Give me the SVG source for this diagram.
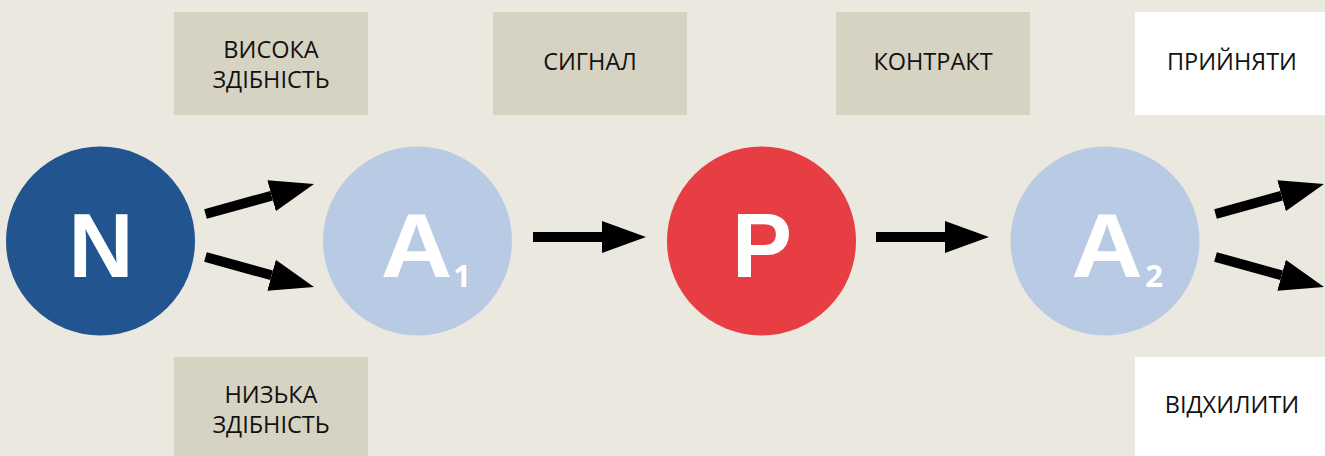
<svg xmlns="http://www.w3.org/2000/svg" width="1325" height="456" viewBox="0 0 1325 456">
  <style>
    .box { fill: #D6D3C2; }
    .wbox { fill: #FFFFFF; }
    .lbl { font-family: "Open Sans", "Liberation Sans", sans-serif; font-size: 23.5px; fill: #111111; text-anchor: middle; }
    .big { font-family: "Liberation Sans", Arial, sans-serif; font-weight: bold; font-size: 90px; fill: #FFFFFF; text-anchor: middle; }
    .sub { font-family: "Open Sans", "Liberation Sans", sans-serif; font-weight: bold; font-size: 31px; fill: #FFFFFF; text-anchor: middle; }
    .conn { stroke: #000000; stroke-width: 10; fill: none; }
  </style>
  <defs>
    <marker id="ah" markerUnits="userSpaceOnUse" markerWidth="44" markerHeight="32" refX="0" refY="16" orient="auto" viewBox="0 0 44 32">
      <path d="M0,0 L44,16 L0,32 z" fill="#000000"/>
    </marker>
  </defs>
  <rect x="0" y="0" width="1325" height="456" fill="#EBE8E0"/>

  <g id="label-high">
    <rect class="box" x="174" y="12" width="194" height="103"/>
    <text class="lbl" x="271" y="58">ВИСОКА</text>
    <text class="lbl" x="271" y="88">ЗДІБНІСТЬ</text>
  </g>
  <g id="label-low">
    <rect class="box" x="174" y="357" width="194" height="99"/>
    <text class="lbl" x="271" y="403">НИЗЬКА</text>
    <text class="lbl" x="271" y="433">ЗДІБНІСТЬ</text>
  </g>
  <g id="label-signal">
    <rect class="box" x="493" y="12" width="194" height="103"/>
    <text class="lbl" x="590" y="70">СИГНАЛ</text>
  </g>
  <g id="label-contract">
    <rect class="box" x="836" y="12" width="194" height="103"/>
    <text class="lbl" x="933" y="70">КОНТРАКТ</text>
  </g>
  <g id="label-accept">
    <rect class="wbox" x="1135" y="12" width="190" height="103"/>
    <text class="lbl" x="1232" y="70">ПРИЙНЯТИ</text>
  </g>
  <g id="label-reject">
    <rect class="wbox" x="1135" y="357" width="190" height="99"/>
    <text class="lbl" x="1232" y="413">ВІДХИЛИТИ</text>
  </g>

  <g id="node-N">
    <circle cx="100.5" cy="241" r="94.5" fill="#22548F"/>
    <text class="big" x="101" y="277">N</text>
  </g>
  <g id="node-A1">
    <circle cx="417.5" cy="241" r="94.5" fill="#B9CAE4"/>
    <text class="big" transform="translate(416.5,277) scale(1.1,1)" x="0" y="0">A</text>
    <text class="sub" x="462" y="287">1</text>
  </g>
  <g id="node-P">
    <circle cx="761.5" cy="241" r="94.5" fill="#E63E43"/>
    <text class="big" x="762" y="277">P</text>
  </g>
  <g id="node-A2">
    <circle cx="1105" cy="241" r="94.5" fill="#B9CAE4"/>
    <text class="big" transform="translate(1107,277) scale(1.1,1)" x="0" y="0">A</text>
    <text class="sub" x="1154" y="287">2</text>
  </g>

  <g id="connectors">
    <line class="conn" x1="205.5" y1="214" x2="271.6" y2="195.7" marker-end="url(#ah)"/>
    <line class="conn" x1="205.5" y1="257" x2="271.6" y2="275.3" marker-end="url(#ah)"/>
    <line class="conn" x1="533" y1="237" x2="602" y2="237" marker-end="url(#ah)"/>
    <line class="conn" x1="876" y1="237" x2="945" y2="237" marker-end="url(#ah)"/>
    <line class="conn" x1="1215.5" y1="214" x2="1281.6" y2="195.7" marker-end="url(#ah)"/>
    <line class="conn" x1="1215.5" y1="257" x2="1281.6" y2="275.3" marker-end="url(#ah)"/>
  </g>
</svg>
